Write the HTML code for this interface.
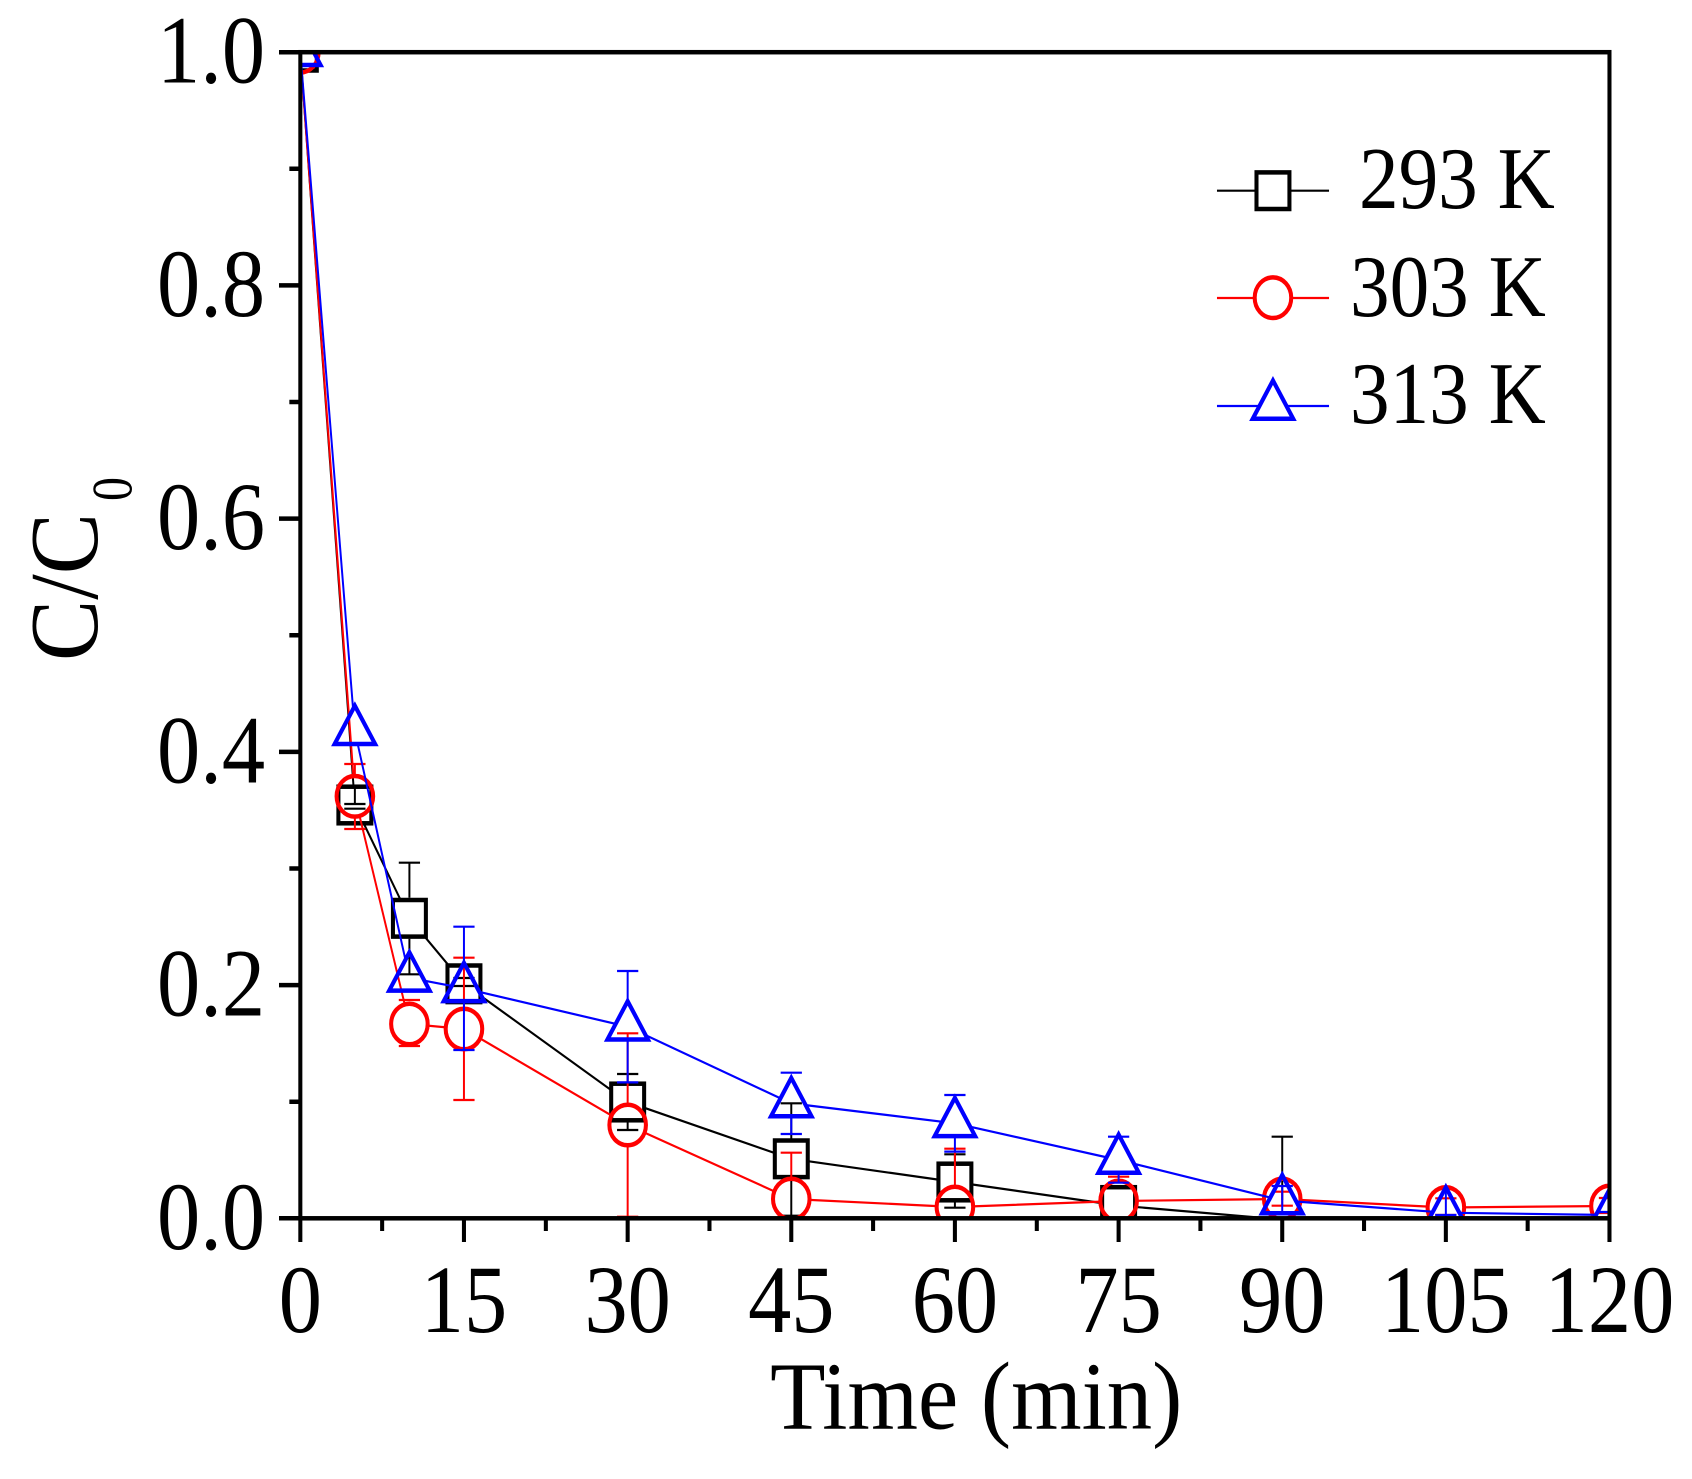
<!DOCTYPE html>
<html>
<head>
<meta charset="utf-8">
<style>
html,body{margin:0;padding:0;background:#fff;}
svg{display:block;}
text{font-family:"Liberation Serif","Times New Roman",serif;fill:#000;}
</style>
</head>
<body>
<svg width="1692" height="1479" viewBox="0 0 1692 1479" xmlns="http://www.w3.org/2000/svg">
<rect x="0" y="0" width="1692" height="1479" fill="#fff"/>
<g transform="scale(0.9,1)">
<defs>
<clipPath id="plot"><rect x="333.7" y="52.2" width="1454.6" height="1166.1"/></clipPath>
<mask id="mB" maskUnits="userSpaceOnUse" x="0" y="0" width="1880" height="1479">
<rect x="0" y="0" width="1880" height="1479" fill="#fff"/>
<g fill="#000">
<rect x="315.4" y="33.9" width="36.6" height="36.6"/>
<rect x="376.0" y="786.7" width="36.6" height="36.6"/>
<rect x="436.6" y="900.0" width="36.6" height="36.6"/>
<rect x="497.2" y="965.5" width="36.6" height="36.6"/>
<rect x="679.1" y="1083.7" width="36.6" height="36.6"/>
<rect x="860.9" y="1140.5" width="36.6" height="36.6"/>
<rect x="1042.7" y="1163.7" width="36.6" height="36.6"/>
<rect x="1224.6" y="1187.2" width="36.6" height="36.6"/>
<rect x="1406.4" y="1201.3" width="36.6" height="36.6"/>
</g>
</mask>
<mask id="mR" maskUnits="userSpaceOnUse" x="0" y="0" width="1880" height="1479">
<rect x="0" y="0" width="1880" height="1479" fill="#fff"/>
<g fill="#000">
<circle cx="333.7" cy="52.2" r="20.3"/>
<circle cx="394.3" cy="796.3" r="20.3"/>
<circle cx="454.9" cy="1024" r="20.3"/>
<circle cx="515.5" cy="1029" r="20.3"/>
<circle cx="697.4" cy="1125" r="20.3"/>
<circle cx="879.2" cy="1199" r="20.3"/>
<circle cx="1061.0" cy="1207" r="20.3"/>
<circle cx="1242.9" cy="1201" r="20.3"/>
<circle cx="1424.7" cy="1199" r="20.3"/>
<circle cx="1606.5" cy="1207.5" r="20.3"/>
<circle cx="1788.3" cy="1206" r="20.3"/>
</g>
</mask>
<mask id="mT" maskUnits="userSpaceOnUse" x="0" y="0" width="1880" height="1479">
<rect x="0" y="0" width="1880" height="1479" fill="#fff"/>
<g fill="#000">
<path d="M333.7,26.7 L311.2,65 L356.2,65 Z"/>
<path d="M394.3,705.7 L371.8,744 L416.8,744 Z"/>
<path d="M454.9,952.3 L432.4,990.6 L477.4,990.6 Z"/>
<path d="M515.5,962.8 L493,1001.1 L538,1001.1 Z"/>
<path d="M697.4,1001.2 L674.9,1039.5 L719.9,1039.5 Z"/>
<path d="M879.2,1077.9 L856.7,1116.2 L901.7,1116.2 Z"/>
<path d="M1061.0,1097.8 L1038.5,1136.1 L1083.5,1136.1 Z"/>
<path d="M1242.9,1134.5 L1220.4,1172.8 L1265.4,1172.8 Z"/>
<path d="M1424.7,1175 L1402.2,1213.3 L1447.2,1213.3 Z"/>
<path d="M1606.5,1187.2 L1584,1225.5 L1629,1225.5 Z"/>
<path d="M1788.3,1189.5 L1765.8,1227.8 L1810.8,1227.8 Z"/>
</g>
</mask>
</defs>

<!-- Series 293 K (black) -->
<g clip-path="url(#plot)">
<polyline mask="url(#mB)" fill="none" stroke="#000" stroke-width="2.2" points="333.7,52.2 394.3,805 454.9,918.3 515.5,983.8 697.4,1102 879.2,1158.8 1061.0,1182 1242.9,1205.5 1424.7,1219.6"/>
<g fill="none" stroke="#000" stroke-width="4.5">
<rect x="315.4" y="33.9" width="36.6" height="36.6"/>
<rect x="376.0" y="786.7" width="36.6" height="36.6"/>
<rect x="436.6" y="900.0" width="36.6" height="36.6"/>
<rect x="497.2" y="965.5" width="36.6" height="36.6"/>
<rect x="679.1" y="1083.7" width="36.6" height="36.6"/>
<rect x="860.9" y="1140.5" width="36.6" height="36.6"/>
<rect x="1042.7" y="1163.7" width="36.6" height="36.6"/>
<rect x="1224.6" y="1187.2" width="36.6" height="36.6"/>
</g>
<g fill="none" stroke="#000" stroke-width="2.2">
<path d="M394.3,787 V804 M382.5,804 H406.1 M382.5,808.7 H406.1"/>
<path d="M454.9,862.7 V897.8 M454.9,938.8 V974.3 M443.1,862.7 H466.7 M443.1,974.3 H466.7"/>
<path d="M503.7,978 H527.3 M503.7,986 H527.3"/>
<path d="M697.4,1074 V1083.5 M697.4,1120.5 V1130 M685.6,1074 H709.2 M685.6,1130 H709.2"/>
<path d="M879.2,1103.3 V1140.5 M879.2,1177 V1215.7 M867.4,1103.3 H891 M867.4,1215.7 H891"/>
<path d="M1061,1154.3 V1163.7 M1061,1200.3 V1207.7 M1049.2,1154.3 H1072.8 M1049.2,1207.7 H1072.8"/>
<path d="M1424.7,1136.7 V1200 M1412.9,1136.7 H1436.5"/>
</g>
</g>

<!-- Series 303 K (red) -->
<g clip-path="url(#plot)">
<polyline mask="url(#mR)" fill="none" stroke="#f00" stroke-width="2.2" points="333.7,52.2 394.3,796.3 454.9,1024 515.5,1029 697.4,1125 879.2,1199 1061.0,1207 1242.9,1201 1424.7,1199 1606.5,1207.5 1788.3,1206"/>
<g fill="none" stroke="#f00" stroke-width="4.5">
<circle cx="333.7" cy="52.2" r="20.3"/>
<circle cx="394.3" cy="796.3" r="20.3"/>
<circle cx="454.9" cy="1024" r="20.3"/>
<circle cx="515.5" cy="1029" r="20.3"/>
<circle cx="697.4" cy="1125" r="20.3"/>
<circle cx="879.2" cy="1199" r="20.3"/>
<circle cx="1061.0" cy="1207" r="20.3"/>
<circle cx="1242.9" cy="1201" r="20.3"/>
<circle cx="1424.7" cy="1199" r="20.3"/>
<circle cx="1606.5" cy="1207.5" r="20.3"/>
<circle cx="1788.3" cy="1206" r="20.3"/>
</g>
<g fill="none" stroke="#f00" stroke-width="2.2">
<path d="M394.3,764 V776 M394.3,816.6 V829 M382.5,764 H406.1 M382.5,829 H406.1"/>
<path d="M443.1,1000 H466.7 M443.1,1046 H466.7"/>
<path d="M515.5,957.7 V1008.7 M515.5,1049.3 V1100 M503.7,957.7 H527.3 M503.7,1100 H527.3"/>
<path d="M697.4,1033.3 V1104.7 M697.4,1145.3 V1216.7 M685.6,1033.3 H709.2 M685.6,1216.7 H709.2"/>
<path d="M879.2,1152.7 V1178.7 M867.4,1152.7 H891"/>
<path d="M1061,1148.7 V1186.7 M1049.2,1148.7 H1072.8"/>
<path d="M1231.1,1176.7 H1254.7"/>
<path d="M1424.7,1191.7 V1205.7 M1412.9,1191.7 H1436.5 M1412.9,1205.7 H1436.5"/>
<path d="M1594.7,1198.3 H1618.3 M1594.7,1215 H1618.3"/>
<path d="M1776.5,1198 H1800.1 M1776.5,1213 H1800.1"/>
</g>
</g>

<!-- Series 313 K (blue) -->
<g clip-path="url(#plot)">
<polyline mask="url(#mT)" fill="none" stroke="#00f" stroke-width="2.2" points="333.7,52.2 394.3,731.2 454.9,977.8 515.5,988.3 697.4,1026.7 879.2,1103.4 1061.0,1123.3 1242.9,1160 1424.7,1200.5 1606.5,1212.7 1788.3,1215"/>
<g fill="none" stroke="#00f" stroke-width="4.5" stroke-linejoin="miter">
<path d="M333.7,26.7 L311.2,65 L356.2,65 Z"/>
<path d="M394.3,705.7 L371.8,744 L416.8,744 Z"/>
<path d="M454.9,952.3 L432.4,990.6 L477.4,990.6 Z"/>
<path d="M515.5,962.8 L493,1001.1 L538,1001.1 Z"/>
<path d="M697.4,1001.2 L674.9,1039.5 L719.9,1039.5 Z"/>
<path d="M879.2,1077.9 L856.7,1116.2 L901.7,1116.2 Z"/>
<path d="M1061.0,1097.8 L1038.5,1136.1 L1083.5,1136.1 Z"/>
<path d="M1242.9,1134.5 L1220.4,1172.8 L1265.4,1172.8 Z"/>
<path d="M1424.7,1175 L1402.2,1213.3 L1447.2,1213.3 Z"/>
<path d="M1606.5,1187.2 L1584,1225.5 L1629,1225.5 Z"/>
<path d="M1788.3,1189.5 L1765.8,1227.8 L1810.8,1227.8 Z"/>
</g>
<g fill="none" stroke="#00f" stroke-width="2.2">
<path d="M515.5,926.7 V962.8 M515.5,1001 V1050 M503.7,926.7 H527.3 M503.7,1050 H527.3"/>
<path d="M697.4,971 V1001 M697.4,1039.5 V1082.4 M685.6,971 H709.2 M685.6,1082.4 H709.2"/>
<path d="M879.2,1116 V1134 M867.4,1072.7 H891 M867.4,1134 H891"/>
<path d="M1061,1136 V1151.6 M1049.2,1095 H1072.8 M1049.2,1151.6 H1072.8"/>
<path d="M1242.9,1172.8 V1182.7 M1231.1,1136.7 H1254.7 M1231.1,1182.7 H1254.7"/>
<path d="M1424.7,1186 V1215 M1412.9,1186 H1436.5"/>
<path d="M1606.5,1187 V1218 M1594.7,1215 H1618.3"/>
<path d="M1788.3,1190 V1218 M1776.5,1212 H1800.1"/>
</g>
</g>

<!-- Axes frame -->
<rect x="333.7" y="52.2" width="1454.6" height="1166.1" fill="none" stroke="#000" stroke-width="4.5"/>
<!-- Y ticks -->
<g stroke="#000" stroke-width="4.5">
<path d="M310,1218.3 H333.7 M310,985.1 H333.7 M310,751.9 H333.7 M310,518.6 H333.7 M310,285.4 H333.7 M310,52.2 H333.7"/>
<path d="M321.5,1101.7 H333.7 M321.5,868.5 H333.7 M321.5,635.2 H333.7 M321.5,402.0 H333.7 M321.5,168.8 H333.7"/>
</g>
<!-- X ticks -->
<g stroke="#000" stroke-width="4.5">
<path d="M333.7,1218.3 V1242 M515.5,1218.3 V1242 M697.4,1218.3 V1242 M879.2,1218.3 V1242 M1061.0,1218.3 V1242 M1242.9,1218.3 V1242 M1424.7,1218.3 V1242 M1606.5,1218.3 V1242 M1788.3,1218.3 V1242"/>
<path d="M424.6,1218.3 V1231 M606.5,1218.3 V1231 M788.3,1218.3 V1231 M970.1,1218.3 V1231 M1152.0,1218.3 V1231 M1333.8,1218.3 V1231 M1515.6,1218.3 V1231 M1697.4,1218.3 V1231"/>
</g>

<!-- Y tick labels -->
<g font-size="96" text-anchor="end">
<text x="294.5" y="1248.8">0.0</text>
<text x="294.5" y="1015.6">0.2</text>
<text x="294.5" y="782.4">0.4</text>
<text x="294.5" y="549.1">0.6</text>
<text x="294.5" y="315.9">0.8</text>
<text x="294.5" y="82.7">1.0</text>
</g>
<!-- X tick labels -->
<g font-size="96" text-anchor="middle">
<text x="333.7" y="1332">0</text>
<text x="515.5" y="1332">15</text>
<text x="697.4" y="1332">30</text>
<text x="879.2" y="1332">45</text>
<text x="1061.0" y="1332">60</text>
<text x="1242.9" y="1332">75</text>
<text x="1424.7" y="1332">90</text>
<text x="1606.5" y="1332">105</text>
<text x="1788.3" y="1332">120</text>
</g>

<!-- X title -->
<text x="855.7" y="1428.3" font-size="96" textLength="458" lengthAdjust="spacingAndGlyphs">Time (min)</text>

<!-- Legend -->
<g stroke-width="2.2" fill="none">
<path d="M1352.2,190.7 H1476.7" stroke="#000"/>
<rect x="1396.1" y="172.4" width="36.6" height="36.6" stroke="#000" stroke-width="4.5" fill="#fff"/>
<path d="M1352.2,298 H1476.7" stroke="#f00"/>
<circle cx="1414.4" cy="297.7" r="20.3" stroke="#f00" stroke-width="4.5" fill="#fff"/>
<path d="M1352.2,406 H1476.7" stroke="#00f"/>
<path d="M1414.4,380.5 L1391.9,418.8 L1436.9,418.8 Z" stroke="#00f" stroke-width="4.5" fill="#fff"/>
</g>
<g font-size="88">
<text x="1510" y="208">293 K</text>
<text x="1500" y="316">303 K</text>
<text x="1500" y="423">313 K</text>
</g>
</g>

<!-- Y title (actual coordinates) -->
<text transform="translate(97,661) rotate(-90)" font-size="98" textLength="148" lengthAdjust="spacingAndGlyphs">C/C</text>
<text transform="translate(131.5,501) rotate(-90)" font-size="57" textLength="24" lengthAdjust="spacingAndGlyphs">0</text>
</svg>
</body>
</html>
